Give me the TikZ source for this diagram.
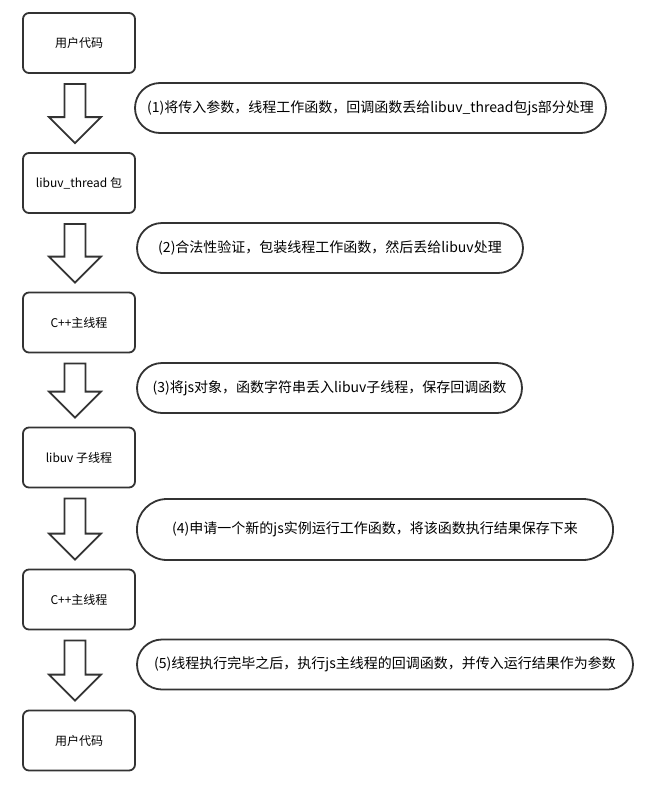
\documentclass[tikz,border=0pt]{standalone}
\usepackage{fontspec}
\setmainfont{Noto Sans CJK SC}
\usetikzlibrary{calc}
\definecolor{edge}{HTML}{333333}
\tikzset{
  stepbox/.style={draw=edge, line width=1.8pt, rounded corners=6pt, fill=white,
    minimum width=112pt, minimum height=60pt, inner sep=0pt,
    font=\fontsize{12pt}{14pt}\selectfont},
  pill/.style={draw=edge, line width=1.8pt, rounded corners=25pt, fill=white,
    minimum height=50pt, inner sep=0pt, font=\fontsize{14pt}{16pt}\selectfont},
  barrow/.style={draw=edge, line width=1.8pt, fill=white, line join=miter}
}
\newcommand{\blockarrow}[2]{%
  \draw[barrow] let \p1=($(#1.south)+(-4,10)$), \p2=($(#2.north)+(-4,-9)$) in
    (\x1-10.5pt,\y1) -- (\x1+10.5pt,\y1) -- (\x1+10.5pt,\y2+26pt) -- (\x1+26pt,\y2+26pt)
    -- (\x1,\y2) -- (\x1-26pt,\y2+26pt) -- (\x1-10.5pt,\y2+26pt) -- cycle;}
\begin{document}
\begin{tikzpicture}[x=1pt,y=-1pt]
\useasboundingbox (0,0) rectangle (645,790);
\fill[white] (0,0) rectangle (645,790);
\node[stepbox] (b1) at (79,43) {用户代码};
\node[stepbox] (b2) at (79,183) {libuv\_thread 包};
\node[stepbox] (b3) at (79,322.5) {C++主线程};
\node[stepbox] (b4) at (79,457.5) {libuv 子线程};
\node[stepbox] (b5) at (79,599.5) {C++主线程};
\node[stepbox] (b6) at (79,740.5) {用户代码};
\blockarrow{b1}{b2}
\blockarrow{b2}{b3}
\blockarrow{b3}{b4}
\blockarrow{b4}{b5}
\blockarrow{b5}{b6}
\node[pill, minimum width=471pt] (c1) at (370.5,108) {(1)将传入参数，线程工作函数，回调函数丢给libuv\_thread包js部分处理};
\node[pill, minimum width=386pt] (c2) at (330,248) {(2)合法性验证，包装线程工作函数，然后丢给libuv处理};
\node[pill, minimum width=385pt] (c3) at (329.5,388) {(3)将js对象，函数字符串丢入libuv子线程，保存回调函数};
\node[pill, minimum width=476pt, minimum height=61pt, rounded corners=30pt] (c4) at (375,529.5) {(4)申请一个新的js实例运行工作函数，将该函数执行结果保存下来};
\node[pill, minimum width=496pt] (c5) at (385,664.5) {(5)线程执行完毕之后，执行js主线程的回调函数，并传入运行结果作为参数};
\end{tikzpicture}
\end{document}
